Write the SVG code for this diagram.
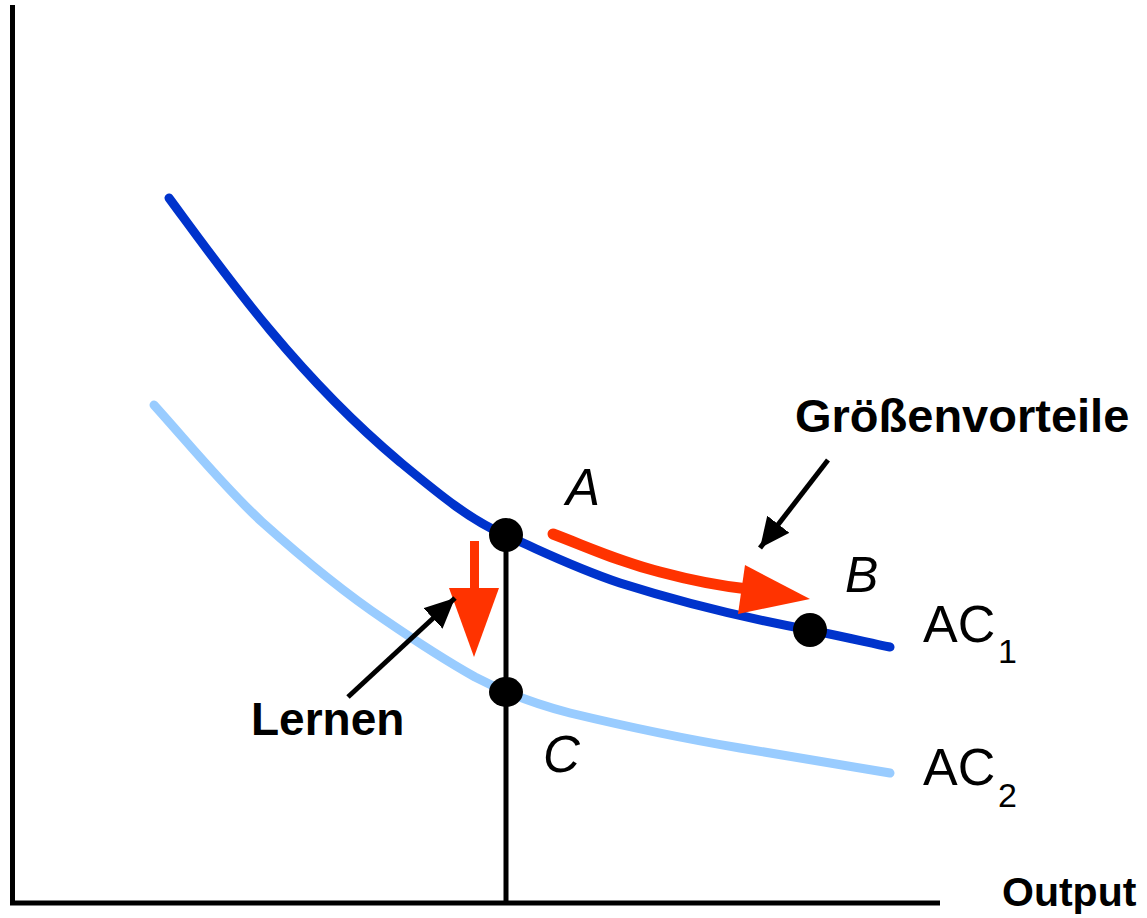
<svg xmlns="http://www.w3.org/2000/svg" width="1147" height="918" viewBox="0 0 1147 918">
<style>
.axis{stroke:#000;stroke-width:5;fill:none}
.curve{fill:none;stroke-width:9;stroke-linecap:round;stroke-linejoin:round}
.ac1{stroke:#0033cc}
.ac2{stroke:#99ccff}
.dot{fill:#000}
.bold{font-family:"Liberation Sans",Arial,sans-serif;font-weight:bold;fill:#000}
.ital{font-family:"Liberation Sans",Arial,sans-serif;font-style:italic;fill:#000}
.reg{font-family:"Liberation Sans",Arial,sans-serif;fill:#000}
.red{fill:#ff3300}
.ptr{stroke:#000;stroke-width:5;fill:none}
</style>
<defs>
<marker id="ah" markerUnits="userSpaceOnUse" markerWidth="32" markerHeight="28" refX="30" refY="14" orient="auto">
<path d="M0,0 L30,14 L0,28 Z" fill="#000"/>
</marker>
</defs>
<g id="axes">
<line class="axis" x1="12.5" y1="5" x2="12.5" y2="905"/>
<line class="axis" x1="10" y1="903" x2="940" y2="903"/>
<line class="axis" x1="506" y1="535" x2="506" y2="903"/>
</g>
<g id="ac1">
<path class="curve ac1" d="M169,198 C200,240 230,282 270,330 C310,378 350,420 400,462 C440,495 470,520 507,536 C540,550 570,566 620,583 C680,602 740,617 810,630 C850,638 870,643 890,647"/>
<text class="reg" x="923" y="642" font-size="52">AC</text>
<text class="reg" x="998" y="663" font-size="34">1</text>
</g>
<g id="ac2">
<path class="curve ac2" d="M154,405 C190,445 225,488 262,522 C300,556 340,590 385,620 C420,644 450,663 475,677 C500,690 530,703 570,713 C620,725 680,738 740,748 C800,758 850,766 890,773"/>
<text class="reg" x="923" y="785" font-size="52">AC</text>
<text class="reg" x="998" y="807" font-size="34">2</text>
</g>
<g id="pointA">
<circle class="dot" cx="506" cy="535" r="17"/>
<text class="ital" x="566" y="505" font-size="51">A</text>
</g>
<g id="pointB">
<circle class="dot" cx="810" cy="630" r="17"/>
<text class="ital" x="845" y="592" font-size="50">B</text>
</g>
<g id="pointC">
<ellipse class="dot" cx="506" cy="692" rx="17" ry="15"/>
<text class="ital" x="543" y="772" font-size="51">C</text>
</g>
<g id="label-groessenvorteile">
<text class="bold" x="795" y="432" font-size="47">Größenvorteile</text>
</g>
<g id="label-lernen">
<text class="bold" x="251" y="735" font-size="46">Lernen</text>
</g>
<g id="label-output">
<text class="bold" x="1002" y="906" font-size="41">Output</text>
</g>
<g id="connectors">
<rect class="red" x="470" y="541" width="9" height="48"/>
<polygon class="red" points="449,588 499,588 474,657"/>
<path d="M553,534 C590,548 620,562 660,572 C690,580 720,586 748,589" fill="none" stroke="#ff3300" stroke-width="11" stroke-linecap="round"/>
<polygon class="red" points="745,565 810,599 738,614"/>
<line class="ptr" x1="828" y1="460" x2="760" y2="548" marker-end="url(#ah)"/>
<line class="ptr" x1="348" y1="697" x2="455" y2="598" marker-end="url(#ah)"/>
</g>
</svg>
